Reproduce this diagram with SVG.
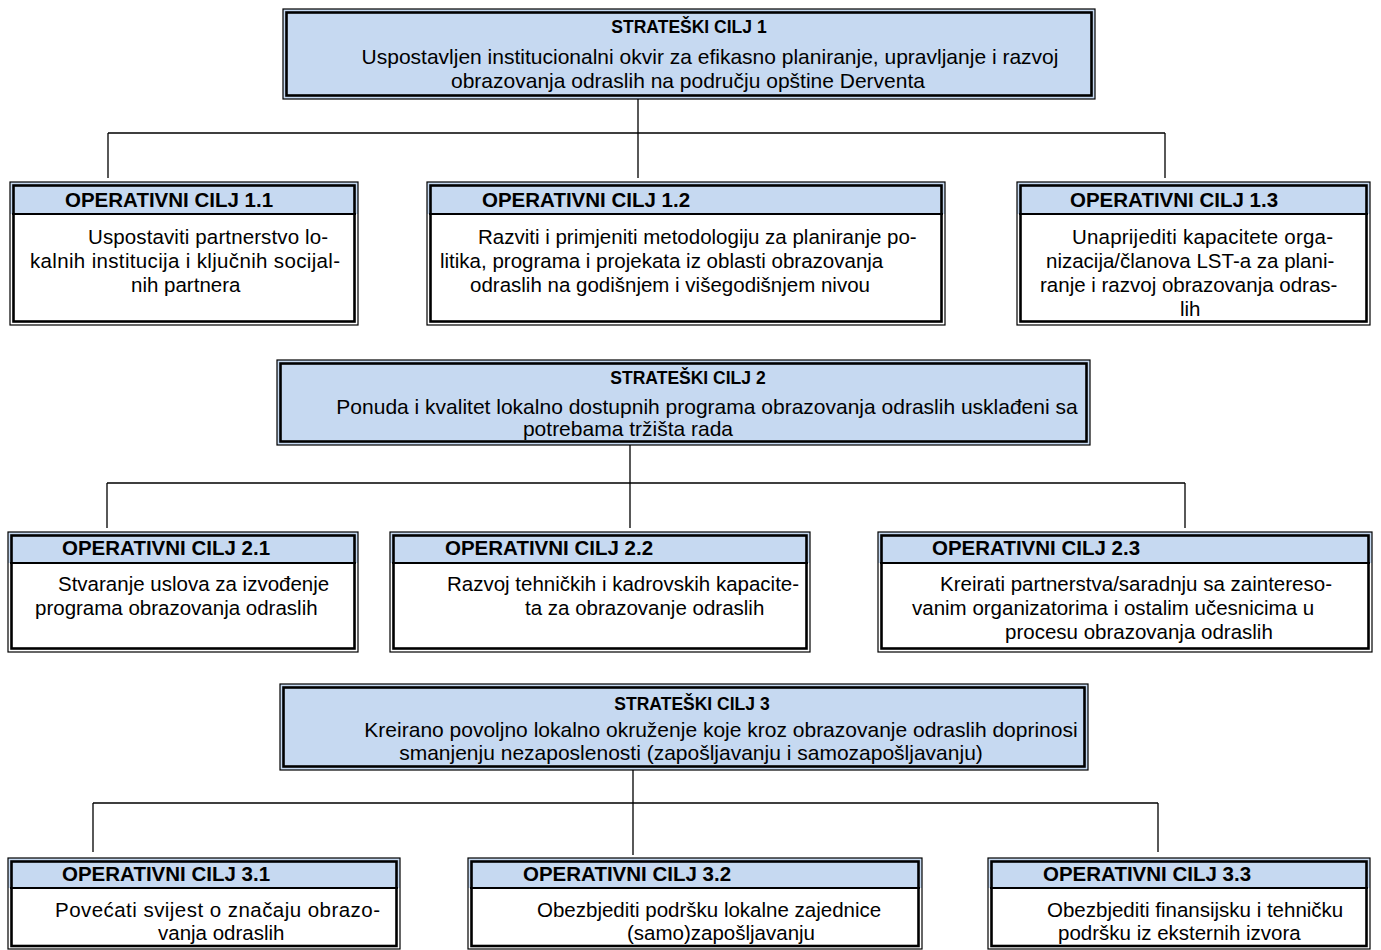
<svg xmlns="http://www.w3.org/2000/svg" width="1381" height="950" viewBox="0 0 1381 950">
<style>
.bg{fill:#ffffff}
.outer{fill:none;stroke:#000;stroke-width:1.2}
.inner{fill:none;stroke:#000;stroke-width:2.6}
.sfill{fill:#c6d9f1}
.hfill{fill:#c6d9f1}
.bfill{fill:#ffffff}
.sep{stroke:#000;stroke-width:2}
.conn{fill:none;stroke:#000;stroke-width:1.3}
text{font-family:"Liberation Sans",Arial,sans-serif;fill:#000}
.st{font-size:17.5px;font-weight:bold;text-anchor:middle}
.sb{font-size:21px;text-anchor:middle}
.ot{font-size:20.5px;font-weight:bold}
.ob{font-size:20.5px}
</style>
<rect class="bg" x="0" y="0" width="1381" height="950"/>
<g id="connectors">
<path class="conn" d="M638,99 V178 M108,133 H1165 M108,133 V178 M1165,133 V178"/>
<path class="conn" d="M630,445 V528 M107,483 H1185 M107,483 V528 M1185,483 V528"/>
<path class="conn" d="M633,770 V855 M93,803 H1158 M93,803 V852 M1158,803 V852"/>
</g>
<g id="s1">
<rect class="sfill" x="283" y="9" width="812" height="90"/>
<rect class="outer" x="283" y="9" width="812" height="90"/>
<rect class="inner" x="286.5" y="12.5" width="805" height="83"/>
<text class="st" x="689" y="33">STRATEŠKI CILJ 1</text>
<text class="sb" x="710" y="64">Uspostavljen institucionalni okvir za efikasno planiranje, upravljanje i razvoj</text>
<text class="sb" x="688" y="88">obrazovanja odraslih na području opštine Derventa</text>
</g>
<g id="o11">
<rect class="hfill" x="10" y="182" width="348" height="32"/>
<rect class="bfill" x="10" y="214" width="348" height="111"/>
<rect class="outer" x="10" y="182" width="348" height="143"/>
<rect class="inner" x="13.5" y="185.5" width="341" height="136"/>
<line class="sep" x1="12" y1="214" x2="356" y2="214"/>
<text class="ot" x="65" y="207">OPERATIVNI CILJ 1.1</text>
<text class="ob" x="88" y="244" textLength="240">Uspostaviti partnerstvo lo-</text>
<text class="ob" x="30" y="268" textLength="310">kalnih institucija i ključnih socijal-</text>
<text class="ob" x="131" y="292">nih partnera</text>
</g>
<g id="o12">
<rect class="hfill" x="427" y="182" width="518" height="32"/>
<rect class="bfill" x="427" y="214" width="518" height="111"/>
<rect class="outer" x="427" y="182" width="518" height="143"/>
<rect class="inner" x="430.5" y="185.5" width="511" height="136"/>
<line class="sep" x1="429" y1="214" x2="943" y2="214"/>
<text class="ot" x="482" y="207">OPERATIVNI CILJ 1.2</text>
<text class="ob" x="478" y="244">Razviti i primjeniti metodologiju za planiranje po-</text>
<text class="ob" x="440" y="268">litika, programa i projekata iz oblasti obrazovanja</text>
<text class="ob" x="470" y="292">odraslih na godišnjem i višegodišnjem nivou</text>
</g>
<g id="o13">
<rect class="hfill" x="1017" y="182" width="353" height="32"/>
<rect class="bfill" x="1017" y="214" width="353" height="111"/>
<rect class="outer" x="1017" y="182" width="353" height="143"/>
<rect class="inner" x="1020.5" y="185.5" width="346" height="136"/>
<line class="sep" x1="1019" y1="214" x2="1368" y2="214"/>
<text class="ot" x="1070" y="207">OPERATIVNI CILJ 1.3</text>
<text class="ob" x="1072" y="244" textLength="261">Unaprijediti  kapacitete  orga-</text>
<text class="ob" x="1046" y="268">nizacija/članova LST-a za plani-</text>
<text class="ob" x="1040" y="292">ranje i razvoj obrazovanja odras-</text>
<text class="ob" x="1180" y="316">lih</text>
</g>
<g id="s2">
<rect class="sfill" x="277" y="360" width="813" height="85"/>
<rect class="outer" x="277" y="360" width="813" height="85"/>
<rect class="inner" x="280.5" y="363.5" width="806" height="78"/>
<text class="st" x="688" y="384">STRATEŠKI CILJ 2</text>
<text class="sb" x="707" y="414">Ponuda i kvalitet lokalno dostupnih programa obrazovanja odraslih usklađeni sa</text>
<text class="sb" x="628" y="436">potrebama tržišta rada</text>
</g>
<g id="o21">
<rect class="hfill" x="8" y="532" width="350" height="31"/>
<rect class="bfill" x="8" y="563" width="350" height="89"/>
<rect class="outer" x="8" y="532" width="350" height="120"/>
<rect class="inner" x="11.5" y="535.5" width="343" height="113"/>
<line class="sep" x1="10" y1="563" x2="356" y2="563"/>
<text class="ot" x="62" y="555">OPERATIVNI CILJ 2.1</text>
<text class="ob" x="58" y="591">Stvaranje uslova za izvođenje</text>
<text class="ob" x="35" y="615">programa obrazovanja odraslih</text>
</g>
<g id="o22">
<rect class="hfill" x="390" y="532" width="420" height="31"/>
<rect class="bfill" x="390" y="563" width="420" height="89"/>
<rect class="outer" x="390" y="532" width="420" height="120"/>
<rect class="inner" x="393.5" y="535.5" width="413" height="113"/>
<line class="sep" x1="392" y1="563" x2="808" y2="563"/>
<text class="ot" x="445" y="555">OPERATIVNI CILJ 2.2</text>
<text class="ob" x="447" y="591">Razvoj tehničkih i kadrovskih kapacite-</text>
<text class="ob" x="525" y="615">ta za obrazovanje odraslih</text>
</g>
<g id="o23">
<rect class="hfill" x="878" y="532" width="494" height="31"/>
<rect class="bfill" x="878" y="563" width="494" height="89"/>
<rect class="outer" x="878" y="532" width="494" height="120"/>
<rect class="inner" x="881.5" y="535.5" width="487" height="113"/>
<line class="sep" x1="880" y1="563" x2="1370" y2="563"/>
<text class="ot" x="932" y="555">OPERATIVNI CILJ 2.3</text>
<text class="ob" x="940" y="591">Kreirati partnerstva/saradnju sa zaintereso-</text>
<text class="ob" x="912" y="615">vanim organizatorima i ostalim učesnicima u</text>
<text class="ob" x="1005" y="639">procesu obrazovanja odraslih</text>
</g>
<g id="s3">
<rect class="sfill" x="280" y="684" width="808" height="86"/>
<rect class="outer" x="280" y="684" width="808" height="86"/>
<rect class="inner" x="283.5" y="687.5" width="801" height="79"/>
<text class="st" x="692" y="710">STRATEŠKI CILJ 3</text>
<text class="sb" x="721" y="737">Kreirano povoljno lokalno okruženje koje kroz obrazovanje odraslih doprinosi</text>
<text class="sb" x="691" y="760">smanjenju nezaposlenosti (zapošljavanju i samozapošljavanju)</text>
</g>
<g id="o31">
<rect class="hfill" x="8" y="858" width="392" height="30"/>
<rect class="bfill" x="8" y="888" width="392" height="61"/>
<rect class="outer" x="8" y="858" width="392" height="91"/>
<rect class="inner" x="11.5" y="861.5" width="385" height="84.5"/>
<line class="sep" x1="10" y1="888" x2="398" y2="888"/>
<text class="ot" x="62" y="881">OPERATIVNI CILJ 3.1</text>
<text class="ob" x="55" y="917" textLength="325">Povećati svijest o značaju obrazo-</text>
<text class="ob" x="158" y="940">vanja odraslih</text>
</g>
<g id="o32">
<rect class="hfill" x="468" y="858" width="454" height="30"/>
<rect class="bfill" x="468" y="888" width="454" height="61"/>
<rect class="outer" x="468" y="858" width="454" height="91"/>
<rect class="inner" x="471.5" y="861.5" width="447" height="84.5"/>
<line class="sep" x1="470" y1="888" x2="920" y2="888"/>
<text class="ot" x="523" y="881">OPERATIVNI CILJ 3.2</text>
<text class="ob" x="537" y="917">Obezbjediti podršku lokalne zajednice</text>
<text class="ob" x="627" y="940">(samo)zapošljavanju</text>
</g>
<g id="o33">
<rect class="hfill" x="988" y="858" width="382" height="30"/>
<rect class="bfill" x="988" y="888" width="382" height="61"/>
<rect class="outer" x="988" y="858" width="382" height="91"/>
<rect class="inner" x="991.5" y="861.5" width="375" height="84.5"/>
<line class="sep" x1="990" y1="888" x2="1368" y2="888"/>
<text class="ot" x="1043" y="881">OPERATIVNI CILJ 3.3</text>
<text class="ob" x="1047" y="917">Obezbjediti finansijsku i tehničku</text>
<text class="ob" x="1058" y="940">podršku iz eksternih izvora</text>
</g>
</svg>
